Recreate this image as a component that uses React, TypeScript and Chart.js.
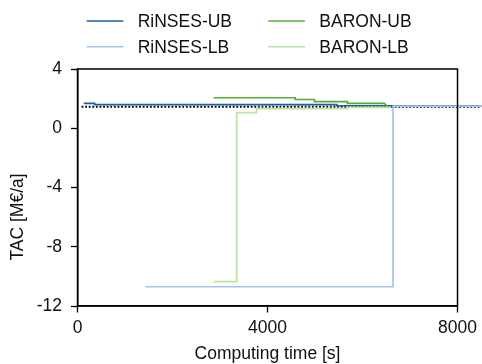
import React, { useEffect, useRef } from "react";
import { Chart, registerables } from "chart.js";
Chart.register(...registerables);

const FONT = '"Liberation Sans", Arial, Helvetica, sans-serif';

// Computing time [s] and TAC [M€/a]
const rinsesUbTime = [131, 361, 361, 5460, 5460, 8500];
const rinsesUbValue = [1.68, 1.68, 1.6, 1.6, 1.52, 1.52];
const rinsesLbTime = [1425, 6643, 6643, 8500];
const rinsesLbValue = [-10.7, -10.7, 1.5, 1.5];
const baronUbTime = [2865, 4583, 4583, 4988, 4988, 5683, 5683, 6460, 6530];
const baronUbValue = [2.06, 2.06, 1.94, 1.94, 1.8, 1.8, 1.68, 1.68, 1.45];
const baronLbTime = [2865, 3352, 3352, 3770, 3770, 5683, 5683, 6600];
const baronLbValue = [-10.36, -10.36, 1.06, 1.06, 1.32, 1.32, 1.41, 1.41];
const optimumTime = [85, 8500];
const optimumValue = [1.45, 1.45];

const xTicks = [0, 4000, 8000];
const yTicks = [4, 0, -4, -8, -12];

const xTitle = "Computing time [s]";
const yTitle = "TAC [M€/a]";
const seriesLabels = ["RiNSES-UB", "RiNSES-LB", "BARON-UB", "BARON-LB"];
const seriesColors = ["#1f5ea8", "#9fc5ec", "#55ab36", "#bde3a1"];

const pts = (xs: number[], ys: number[]) => xs.map((x, i) => ({ x, y: ys[i] }));

const boxAndLegend = {
  id: "boxAndLegend",
  afterDraw(chart: any) {
    const { ctx, chartArea } = chart;
    ctx.save();
    ctx.strokeStyle = "#000";
    ctx.lineWidth = 1.5;
    ctx.strokeRect(chartArea.left, chartArea.top, chartArea.right - chartArea.left, chartArea.bottom - chartArea.top);
    // y axis title
    ctx.font = `17.5px ${FONT}`;
    ctx.fillStyle = "#111";
    ctx.save();
    ctx.translate(18.5, 217);
    ctx.rotate(-Math.PI / 2);
    ctx.textAlign = "center";
    ctx.textBaseline = "middle";
    ctx.fillText(yTitle, 0, 0);
    ctx.restore();
    // legend, two columns, column-major
    const colX = [86.7, 268.3];
    const rowY = [21, 46.7];
    ctx.textBaseline = "alphabetic";
    ctx.textAlign = "left";
    seriesLabels.forEach((label, i) => {
      const c = Math.floor(i / 2);
      const r = i % 2;
      const x = colX[c];
      const y = rowY[r];
      ctx.strokeStyle = seriesColors[i];
      ctx.lineWidth = 1.6;
      ctx.beginPath();
      ctx.moveTo(x, y);
      ctx.lineTo(x + 36.6, y);
      ctx.stroke();
      ctx.fillStyle = "#111";
      ctx.fillText(label, x + 51, y + 6.4);
    });
    ctx.restore();
  },
};

export default function App() {
  const ref = useRef<HTMLCanvasElement>(null);
  useEffect(() => {
    if (!ref.current) return;
    Chart.defaults.font.family = FONT;
    const mk = (label: string, xs: number[], ys: number[], color: string, order: number, extra: any = {}) => ({
      label,
      data: pts(xs, ys),
      borderColor: color,
      backgroundColor: color,
      borderWidth: 1.7,
      pointRadius: 0,
      tension: 0,
      fill: false,
      clip: false,
      order,
      ...extra,
    });
    const chart = new Chart(ref.current, {
      type: "line",
      data: {
        datasets: [
          mk(seriesLabels[0], rinsesUbTime, rinsesUbValue, seriesColors[0], 4),
          mk(seriesLabels[1], rinsesLbTime, rinsesLbValue, seriesColors[1], 3),
          mk(seriesLabels[2], baronUbTime, baronUbValue, seriesColors[2], 2),
          mk(seriesLabels[3], baronLbTime, baronLbValue, seriesColors[3], 1),
          mk("optimum", optimumTime, optimumValue, "#000", 5, { borderDash: [1.8, 1.8], borderWidth: 1.8 }),
        ],
      },
      options: {
        responsive: false,
        animation: false,
        layout: { padding: { top: 69, right: 21, left: 0, bottom: 0 } },
        plugins: { legend: { display: false }, tooltip: { enabled: false } },
        scales: {
          x: {
            type: "linear",
            min: 0,
            max: 8000,
            afterBuildTicks: (s: any) => {
              s.ticks = xTicks.map((v) => ({ value: v }));
            },
            afterFit: (s: any) => {
              s.height = 58;
            },
            ticks: {
              color: "#111",
              font: { size: 17.5 },
              padding: 5,
              maxRotation: 0,
              callback: (v: any) => String(v),
            },
            grid: { drawOnChartArea: false, drawTicks: true, tickLength: 6.5, tickColor: "#000", tickWidth: 1.3 },
            border: { display: true, color: "#000", width: 1.5 },
            title: {
              display: true,
              text: xTitle,
              color: "#111",
              font: { size: 17.5, lineHeight: 1.1 },
              padding: { top: 0, bottom: 0 },
            },
          },
          y: {
            type: "linear",
            min: -12,
            max: 4,
            afterBuildTicks: (s: any) => {
              s.ticks = yTicks.map((v) => ({ value: v }));
            },
            afterFit: (s: any) => {
              s.width = 77.5;
            },
            ticks: {
              color: "#111",
              font: { size: 17.5 },
              padding: 9,
              callback: (v: any) => String(v),
            },
            grid: { drawOnChartArea: false, drawTicks: true, tickLength: 6.5, tickColor: "#000", tickWidth: 1.3 },
            border: { display: true, color: "#000", width: 1.5 },
            title: { display: false },
          },
        },
      },
      plugins: [boxAndLegend],
    } as any);
    return () => chart.destroy();
  }, []);
  return (
    <div style={{ position: "absolute", left: 0, top: 0, width: 482, height: 364 }}>
      <canvas ref={ref} width={482} height={364} style={{ width: 482, height: 364 }} />
    </div>
  );
}
